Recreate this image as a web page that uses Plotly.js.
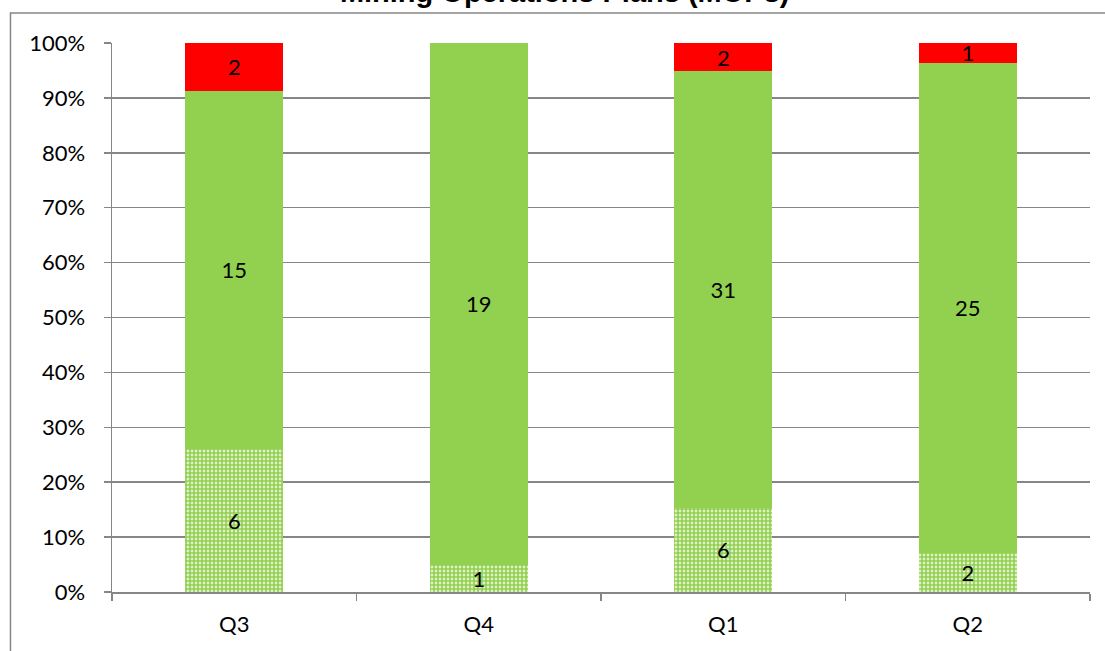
<!DOCTYPE html>
<html>
<head>
<meta charset="utf-8">
<script src="https://cdn.plot.ly/plotly-3.0.1.min.js"></script>
<style>html,body{margin:0;padding:0;background:#fff;}#chart{width:1105px;height:651px;}</style>
</head>
<body>
<div id="chart"></div>
<script>
var categories = ["Q3", "Q4", "Q1", "Q2"];
var patternedValues = [6, 1, 6, 2];
var greenValues = [15, 19, 31, 25];
var redValues = [2, 0, 2, 1];
var yTickVals = [0, 10, 20, 30, 40, 50, 60, 70, 80, 90, 100];
var yTickText = ["0%", "10%", "20%", "30%", "40%", "50%", "60%", "70%", "80%", "90%", "100%"];

function labels(arr) { return arr.map(function (v) { return v === 0 ? "" : String(v); }); }

var baseFont = "Lato, 'Open Sans', sans-serif";
var textFont = {family: baseFont, size: 22, color: "#000"};

function barTrace(vals, name, marker) {
  return {
    type: "bar", x: categories, y: vals, name: name,
    text: labels(vals), textposition: "inside", insidetextanchor: "middle",
    textangle: 0, constraintext: "none", textfont: textFont, hoverinfo: "skip",
    marker: marker
  };
}

var traces = [
  barTrace(patternedValues, "Patterned", {color: "#ffffff", line: {width: 0},
    pattern: {shape: ".", fgcolor: "#92D050", bgcolor: "#ffffff", size: 4, solidity: 0.75}}),
  barTrace(greenValues, "Green", {color: "#92D050", line: {width: 0}}),
  barTrace(redValues, "Red", {color: "#FF0000", line: {width: 0}})
];

var layout = {
  width: 1105, height: 651,
  margin: {l: 112, r: 15, t: 43, b: 59},
  paper_bgcolor: "#ffffff", plot_bgcolor: "#ffffff",
  barmode: "stack", barnorm: "percent", bargap: 0.6,
  showlegend: false,
  title: {text: "<b>Mining Operations Plans (MOPs)</b>", x: 0.511, xref: "container", xanchor: "center",
    y: 1, yref: "container", yanchor: "top", pad: {t: -18},
    font: {family: "'Liberation Sans', Arial, sans-serif", size: 29, color: "#000"}},
  xaxis: {
    type: "category", showgrid: false, showline: true, linecolor: "#868686", linewidth: 1.5,
    ticks: "outside", tickson: "boundaries", ticklen: 7, tickcolor: "#868686", tickwidth: 1.5,
    ticklabelstandoff: 12,
    tickfont: {family: baseFont, size: 22, color: "#000"}, fixedrange: true
  },
  yaxis: {
    range: [0, 100], tickmode: "array", tickvals: yTickVals, ticktext: yTickText,
    showgrid: true, gridcolor: "#868686", gridwidth: 1.5,
    showline: true, linecolor: "#868686", linewidth: 1.5,
    ticks: "outside", ticklen: 7, tickcolor: "#868686", tickwidth: 1.5,
    zeroline: false, ticklabelstandoff: 14,
    tickfont: {family: baseFont, size: 22, color: "#000"}, fixedrange: true
  },
  shapes: [{
    type: "rect", xref: "paper", yref: "paper",
    x0: -0.1038, x1: 1.2, y0: -0.3, y1: 1.0546,
    line: {color: "#868686", width: 1.5}, fillcolor: "rgba(0,0,0,0)", layer: "below"
  }]
};

Plotly.newPlot("chart", traces, layout, {displayModeBar: false, staticPlot: true});
</script>
</body>
</html>
